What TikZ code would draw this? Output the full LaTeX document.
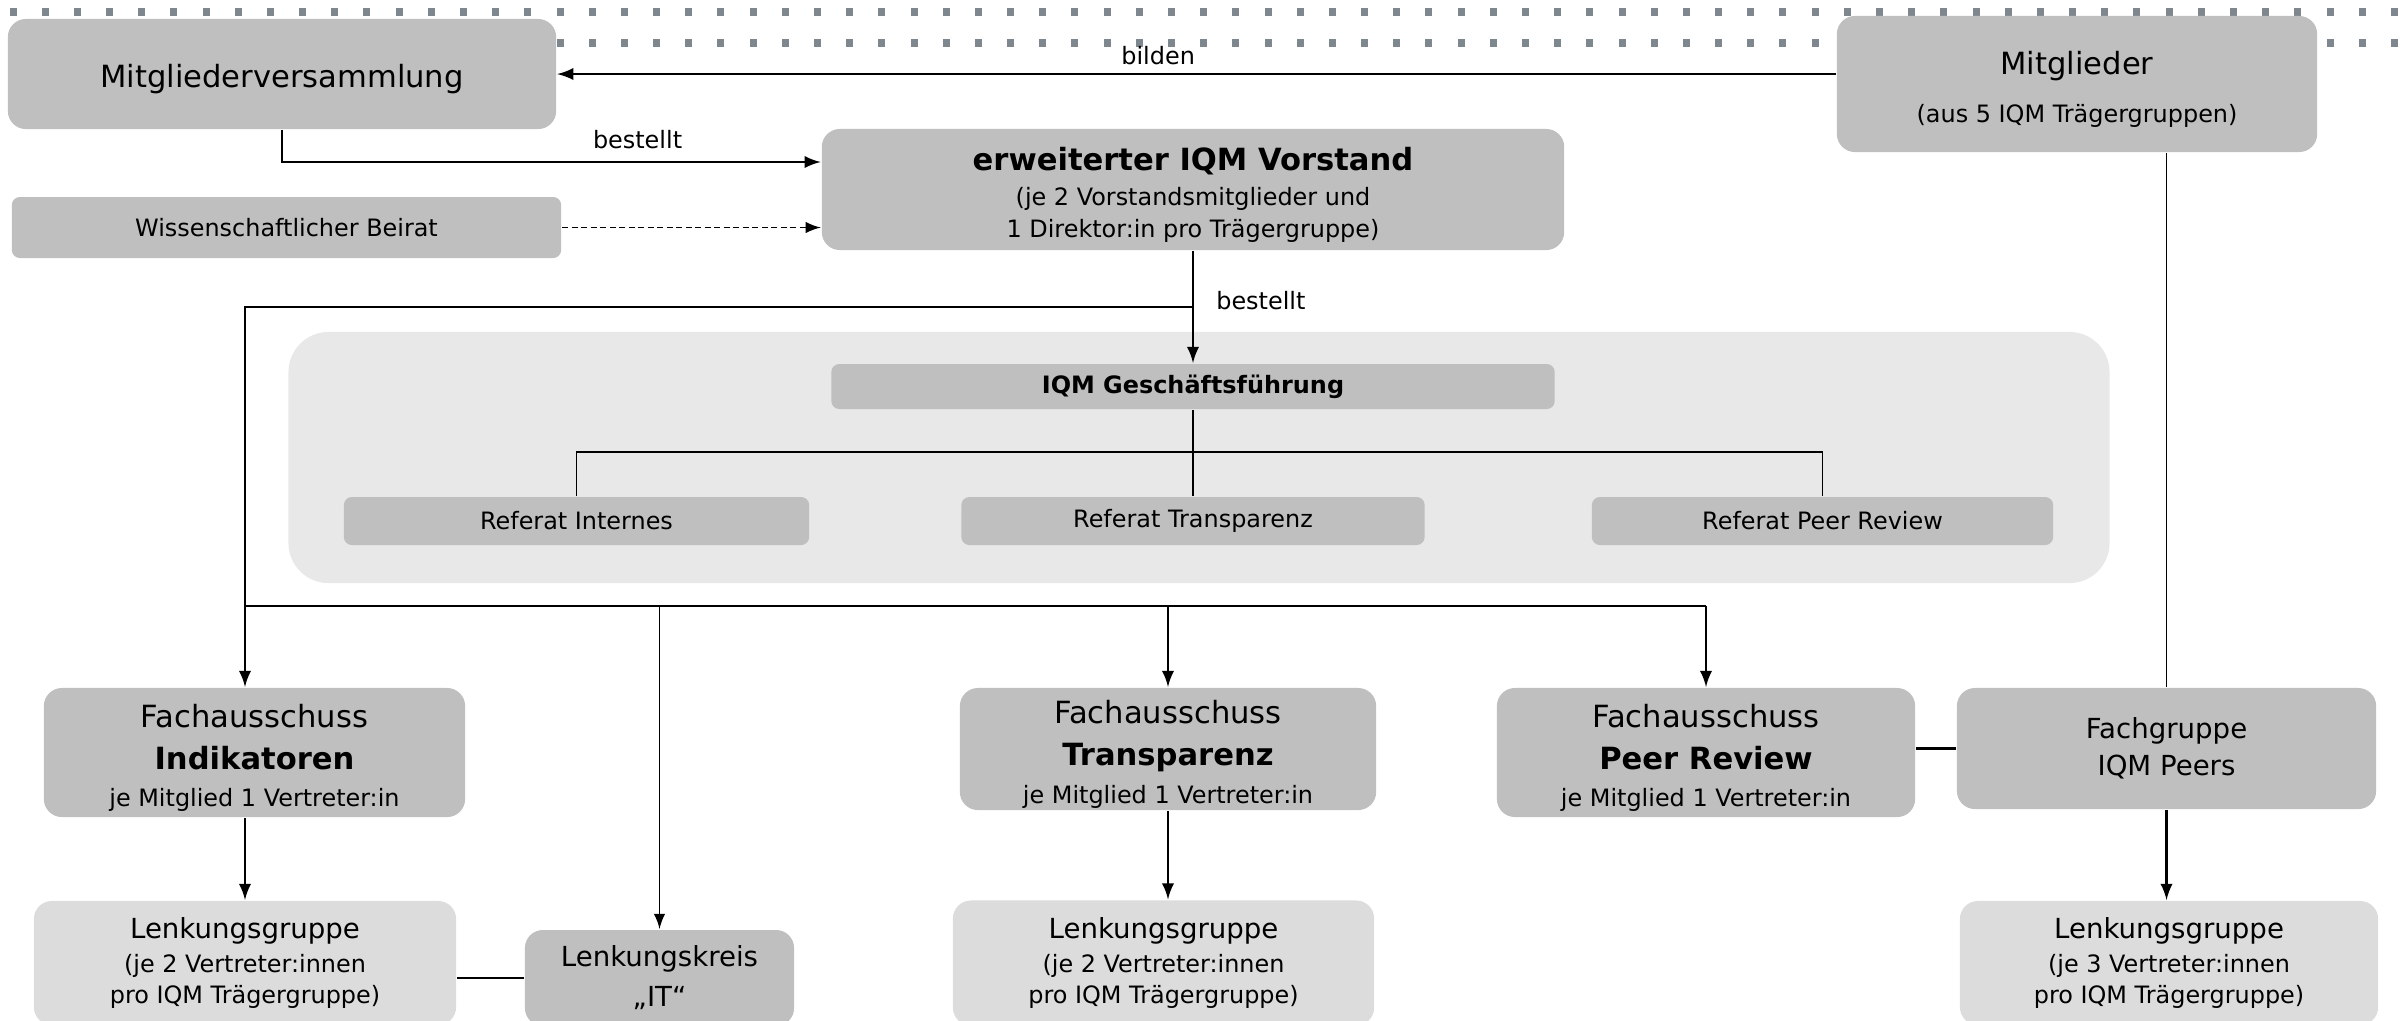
\documentclass[tikz,border=0pt]{standalone}
\usepackage{fontspec}
\setmainfont{DejaVu Sans}
\usepackage{tikz}
\newcommand{\txtL}{\fontsize{8.7}{10}\selectfont}
\newcommand{\txtM}{\fontsize{7.85}{9}\selectfont}
\newcommand{\txtS}{\fontsize{6.8}{8.5}\selectfont}
\newcommand{\hstrut}{\rule{0pt}{9.6pt}}
\definecolor{boxdark}{HTML}{BFBFBF}
\definecolor{boxlight}{HTML}{DCDCDC}
\definecolor{panelgray}{HTML}{E8E8E8}
\definecolor{dotgray}{HTML}{7E878D}
\tikzstyle{box}=[rectangle, fill=boxdark, rounded corners=0.18cm, align=center, inner sep=0pt]
\tikzstyle{lightbox}=[box, fill=boxlight]
\tikzstyle{flatbox}=[box, rounded corners=0.08cm]
\tikzset{thinlink/.style={line width=0.5pt}}

\begin{document}
\begin{tikzpicture}[x=0.01cm, y=-0.01cm, >=latex, line width=0.6pt, font=\txtS]
    \path[use as bounding box] (0,0) rectangle (2407,1020);
    \clip (0,0) rectangle (2407,1020);
    \foreach \i in {0,...,74} \fill[dotgray] ({9.5+32.18*\i},8) rectangle ++(7,8);
    \foreach \i in {17,...,74} \fill[dotgray] ({9.5+32.18*\i},39) rectangle ++(7,8);

    \node[box, minimum width=5.48cm, minimum height=1.10cm, font=\txtL] (mv) at (282,74) {\hstrut Mitgliederversammlung};
    \node[box, minimum width=4.80cm, minimum height=1.36cm] (mitgl) at (2077,84) {{\txtL\hstrut Mitglieder}\\[5pt] (aus 5 IQM Trägergruppen)};
    \node[box, minimum width=7.42cm, minimum height=1.21cm] (vorstand) at (1193,189.5) {{\txtL\bfseries\hstrut erweiterter IQM Vorstand}\\[1.6pt] (je 2 Vorstandsmitglieder und\\[0.6pt] 1 Direktor:in pro Trägergruppe)};
    \node[flatbox, minimum width=5.49cm, minimum height=0.61cm] (beirat) at (286.5,227.5) {Wissenschaftlicher Beirat};

    \node[rectangle, fill=panelgray, rounded corners=0.4cm, minimum width=18.20cm, minimum height=2.51cm] (gs) at (1199,457.5) {};
    \node[flatbox, minimum width=7.23cm, minimum height=0.45cm, font=\txtS\bfseries] (gf) at (1193,386.5) {IQM Geschäftsführung};
    \node[flatbox, minimum width=4.65cm, minimum height=0.48cm] (refint) at (576.5,521) {Referat Internes};
    \node[flatbox, minimum width=4.63cm, minimum height=0.48cm] (reftr) at (1193,521) {Referat Transparenz};
    \node[flatbox, minimum width=4.61cm, minimum height=0.48cm] (refpr) at (1822.5,521) {Referat Peer Review};

    \node[box, minimum width=4.21cm, minimum height=1.29cm] (faind) at (254.5,752.5) {{\txtL\hstrut Fachausschuss}\\[3.5pt] {\txtL\bfseries Indikatoren}\\[2.2pt] je Mitglied 1 Vertreter:in};
    \node[box, minimum width=4.16cm, minimum height=1.22cm] (fatr) at (1168,749) {{\txtL\hstrut Fachausschuss}\\[3.5pt] {\txtL\bfseries Transparenz}\\[2.2pt] je Mitglied 1 Vertreter:in};
    \node[box, minimum width=4.18cm, minimum height=1.29cm] (fapr) at (1706,752.5) {{\txtL\hstrut Fachausschuss}\\[3.5pt] {\txtL\bfseries Peer Review}\\[2.2pt] je Mitglied 1 Vertreter:in};
    \node[box, minimum width=4.19cm, minimum height=1.21cm, font=\txtM] (fgpeers) at (2166.5,748.5) {Fachgruppe\\[1.5pt] IQM Peers};

    \node[lightbox, minimum width=4.22cm, minimum height=1.24cm] (lgind) at (245,963) {{\txtM Lenkungsgruppe}\\[1pt] (je 2 Vertreter:innen\\[0.3pt] pro IQM Trägergruppe)};
    \node[box, minimum width=2.69cm, minimum height=0.96cm, font=\txtM] (lkit) at (659.5,978) {Lenkungskreis\\[2.4pt] „IT“};
    \node[lightbox, minimum width=4.21cm, minimum height=1.25cm] (lgtr) at (1163.5,963) {{\txtM Lenkungsgruppe}\\[1pt] (je 2 Vertreter:innen\\[0.3pt] pro IQM Trägergruppe)};
    \node[lightbox, minimum width=4.18cm, minimum height=1.24cm] (lgpr) at (2169,963) {{\txtM Lenkungsgruppe}\\[1pt] (je 3 Vertreter:innen\\[0.3pt] pro IQM Trägergruppe)};

    % obere Ebene
    \draw[->] (mitgl.west |- mv.east) -- node[above=-1pt, pos=.53] {bilden} (mv.east);
    \draw[->] (mv.south) |- node[above, pos=.83] {bestellt} ([yshift=0.275cm]vorstand.west);
    \draw[->, thinlink, dash pattern=on 1.7pt off 1pt] (beirat.east) -- (beirat.east -| vorstand.west);
    \draw[->] (vorstand.south) -- node[right=3pt, pos=.44] {bestellt} (vorstand.south |- gf.north);

    % Geschaeftsstelle
    \draw[thinlink] (gf.south) -- (reftr.north);
    \draw[thinlink] (refint.north) -- ++(0,-44) -| (refpr.north);

    % Fachausschuesse
    \coordinate (busl) at (245,606);
    \draw ([yshift=-0.56cm]vorstand.south) -| (busl);
    \draw (busl) -- (fapr.north |- busl);
    \draw[->] (busl) -- (busl |- faind.north);
    \draw[->, thinlink] (lkit.north |- busl) -- (lkit.north);
    \draw[->] (fatr.north |- busl) -- (fatr.north);
    \draw[->] (fapr.north |- busl) -- (fapr.north);
    \draw[thinlink] (fgpeers.north |- mitgl.south) -- (fgpeers.north);
    \draw (fgpeers.west) -- (fgpeers.west -| fapr.east);

    % Lenkung
    \draw[->] (lgind.north |- faind.south) -- (lgind.north);
    \draw[->] (fatr.south) -- (fatr.south |- lgtr.north);
    \draw[->] (fgpeers.south) -- (fgpeers.south |- lgpr.north);
    \draw (lkit.west) -- (lkit.west -| lgind.east);
\end{tikzpicture}
\end{document}
